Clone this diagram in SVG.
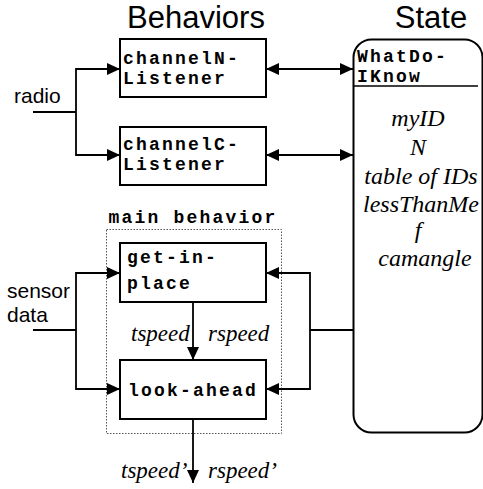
<svg xmlns="http://www.w3.org/2000/svg" width="483" height="489" viewBox="0 0 483 489">
<style>
.box{fill:#fff;stroke:#000;stroke-width:2}
.code{font-family:"Liberation Mono","Courier New",monospace;font-weight:bold;font-size:18px;letter-spacing:2.2px;fill:#000}
.sans{font-family:"Liberation Sans",Arial,sans-serif;fill:#000}
.ital{font-family:"Liberation Serif","Times New Roman",serif;font-style:italic;fill:#000}
.ln{fill:none;stroke:#000;stroke-width:1.8}
</style>
<defs>
<marker id="ah" markerUnits="userSpaceOnUse" markerWidth="13" markerHeight="12" refX="13" refY="6" orient="auto-start-reverse" viewBox="0 0 13 12">
<path d="M0,0 L13,6 L0,12 z" fill="#000"/>
</marker>
</defs>
<rect width="483" height="489" fill="#fff"/>
<text class="sans" x="196" y="28" font-size="31" text-anchor="middle">Behaviors</text>
<text class="sans" x="431" y="28" font-size="31" text-anchor="middle">State</text>
<text class="sans" x="14" y="103" font-size="21">radio</text>
<text class="sans" x="7" y="298" font-size="21"><tspan x="7">sensor</tspan><tspan x="7" dy="24">data</tspan></text>
<g id="mainBehavior">
<rect x="106.5" y="229.5" width="175" height="204" fill="none" stroke="#555" stroke-width="1" stroke-dasharray="1.5,1.5"/>
<text class="code" x="193" y="223" text-anchor="middle">main behavior</text>
</g>
<g id="channelN">
<rect class="box" x="120" y="39" width="146" height="58"/>
<text class="code" x="123" y="63.5"><tspan x="123">channelN-</tspan><tspan x="123" dy="20.6">Listener</tspan></text>
</g>
<g id="channelC">
<rect class="box" x="120" y="127" width="146" height="58"/>
<text class="code" x="123" y="149.5"><tspan x="123">channelC-</tspan><tspan x="123" dy="20.6">Listener</tspan></text>
</g>
<g id="getInPlace">
<rect class="box" x="120" y="243" width="146" height="59"/>
<text class="code" x="127" y="263"><tspan x="127">get-in-</tspan><tspan x="127" dy="26">place</tspan></text>
</g>
<g id="lookAhead">
<rect class="box" x="120" y="360" width="146" height="59"/>
<text class="code" x="193" y="396" text-anchor="middle">look-ahead</text>
</g>
<g id="state">
<rect class="box" x="353.5" y="39.5" width="129" height="393" rx="18" ry="18"/>
<line x1="353" y1="86" x2="478" y2="86" stroke="#000" stroke-width="1.5"/>
<text class="code" x="357" y="61.5"><tspan x="357">WhatDo-</tspan><tspan x="357" dy="20.6">IKnow</tspan></text>
<g class="ital" font-size="24" text-anchor="middle">
<text x="418" y="126">myID</text>
<text x="418" y="155">N</text>
<text x="421" y="184">table of IDs</text>
<text x="421" y="212">lessThanMe</text>
<text x="418" y="238">f</text>
<text x="425" y="266">camangle</text>
</g>
</g>
<g id="connectors">
<path class="ln" d="M33,112 H76"/>
<path class="ln" d="M76,112 V69 H120" marker-end="url(#ah)"/>
<path class="ln" d="M76,112 V155 H120" marker-end="url(#ah)"/>
<path class="ln" d="M266,69 H353" marker-start="url(#ah)" marker-end="url(#ah)"/>
<path class="ln" d="M266,155 H353" marker-start="url(#ah)" marker-end="url(#ah)"/>
<path class="ln" d="M33,330 H76"/>
<path class="ln" d="M76,330 V273 H120" marker-end="url(#ah)"/>
<path class="ln" d="M76,330 V389 H120" marker-end="url(#ah)"/>
<path class="ln" d="M353,330 H310"/>
<path class="ln" d="M310,330 V273 H266" marker-end="url(#ah)"/>
<path class="ln" d="M310,330 V389 H266" marker-end="url(#ah)"/>
<path class="ln" d="M193,302 V360" marker-end="url(#ah)"/>
<path class="ln" d="M193,419 V483" marker-end="url(#ah)"/>
</g>
<g class="ital" font-size="23">
<text x="131" y="341">tspeed</text>
<text x="208" y="341">rspeed</text>
<text x="121" y="478">tspeed’</text>
<text x="208" y="478">rspeed’</text>
</g>
</svg>
